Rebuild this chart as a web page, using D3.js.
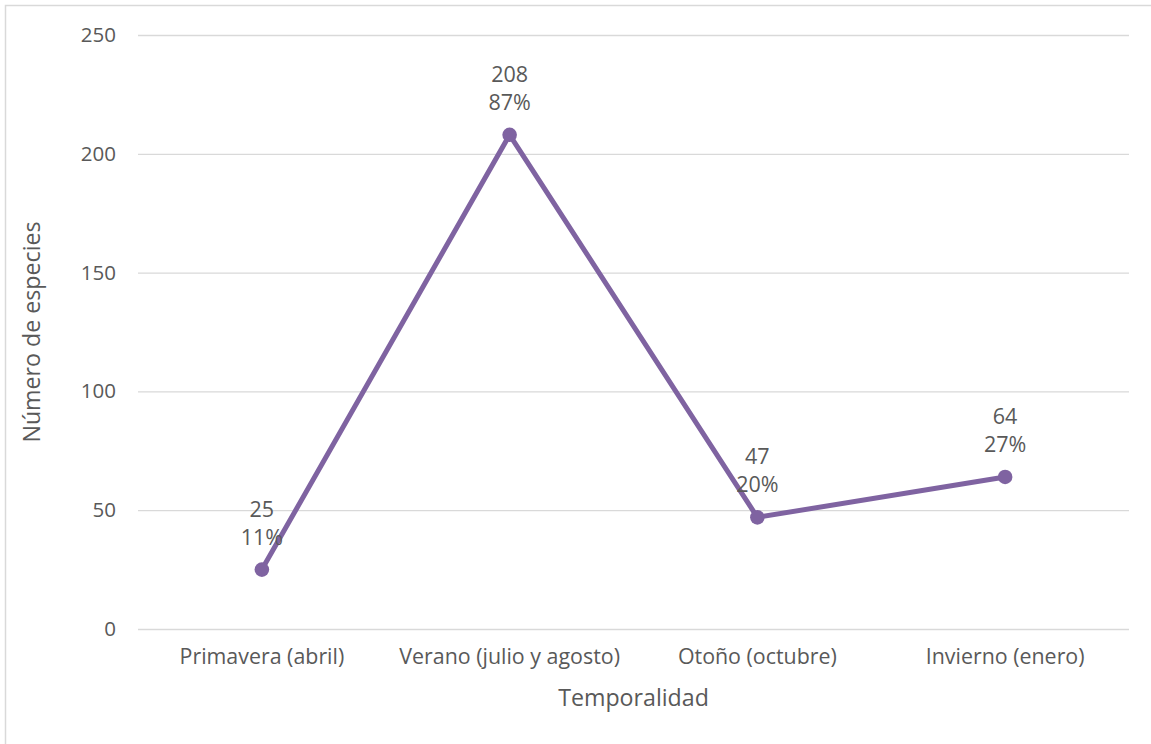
<!DOCTYPE html>
<html><head><meta charset="utf-8">
<script src="https://cdn.jsdelivr.net/npm/d3@7/dist/d3.min.js"></script>
<style>body{margin:0;background:#fff}text{font-family:"Open Sans",sans-serif;fill:#595959}</style>
</head><body><svg id="c" width="1151" height="744"></svg>
<script>
const categories = ["Primavera (abril)", "Verano (julio y agosto)", "Otoño (octubre)", "Invierno (enero)"];
const values = [25, 208, 47, 64];
const percents = ["11%", "87%", "20%", "27%"];
const yTicks = [0, 50, 100, 150, 200, 250];

const FONT = "'Open Sans',sans-serif";
const svg = d3.select("#c");
const m = {l: 138, r: 1129, t: 35, b: 629};
svg.append("rect").attr("x", 5.5).attr("y", 5.5).attr("width", 1160).attr("height", 760)
  .attr("fill", "#fff").attr("stroke", "#d9d9d9").attr("stroke-width", 1.5);

const x = d3.scaleBand().domain(categories).range([m.l, m.r]);
const y = d3.scaleLinear().domain([0, 250]).range([m.b, m.t]);

const gy = svg.append("g").attr("transform", `translate(${m.l},0)`)
  .call(d3.axisLeft(y).tickValues(yTicks).tickSize(-(m.r - m.l)).tickPadding(22));
gy.select(".domain").remove();
gy.selectAll(".tick line").attr("stroke", "#d9d9d9").attr("stroke-width", 1.3);
gy.selectAll(".tick text").attr("font-size", 20.5).style("font-family", FONT).attr("fill", "#595959");

const gx = svg.append("g").attr("transform", `translate(0,${m.b})`)
  .call(d3.axisBottom(x).tickSize(0).tickPadding(20));
gx.select(".domain").remove();
gx.selectAll(".tick text").attr("font-size", 21.4).style("font-family", FONT).attr("fill", "#595959");

const cx = d => x(d) + x.bandwidth() / 2;
const line = d3.line().x((d, i) => cx(categories[i])).y(d => y(d));
svg.append("path").datum(values).attr("d", line).attr("fill", "none")
  .attr("stroke", "#7f63a1").attr("stroke-width", 5).attr("stroke-linejoin", "round");
svg.selectAll("circle.pt").data(values).enter().append("circle")
  .attr("cx", (d, i) => cx(categories[i])).attr("cy", d => y(d)).attr("r", 7.3).attr("fill", "#7f63a1");

const lab = svg.selectAll("g.lab").data(values).enter().append("g");
lab.append("text").attr("x", (d, i) => cx(categories[i])).attr("y", d => y(d) - 53)
  .attr("text-anchor", "middle").attr("font-size", 21.5).text(d => d);
lab.append("text").attr("x", (d, i) => cx(categories[i])).attr("y", d => y(d) - 25)
  .attr("text-anchor", "middle").attr("font-size", 21.5).text((d, i) => percents[i]);

svg.append("text").attr("x", (m.l + m.r) / 2).attr("y", 706).attr("text-anchor", "middle")
  .attr("font-size", 23.2).text("Temporalidad");
svg.append("text").attr("transform", `translate(40,${(m.t + m.b) / 2}) rotate(-90)`)
  .attr("text-anchor", "middle").attr("font-size", 23.2).text("Número de especies");
</script></body></html>
